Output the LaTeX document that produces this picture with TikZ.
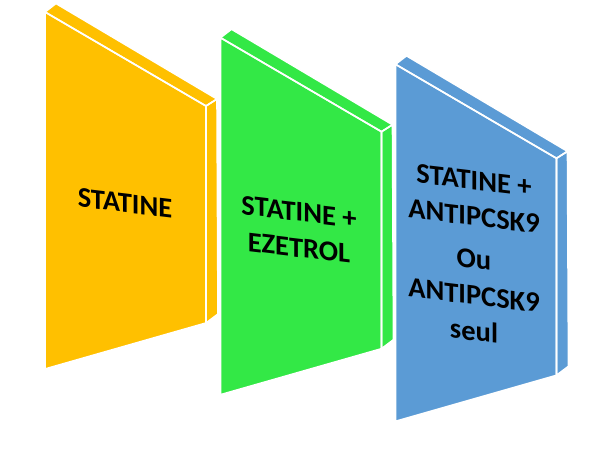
\documentclass[tikz,border=0pt]{standalone}
\usepackage{fontspec}
\setmainfont{Carlito}
\definecolor{porange}{HTML}{FFC000}
\definecolor{pgreen}{HTML}{33E846}
\definecolor{pblue}{HTML}{5B9BD5}
\newcommand{\drawpanel}[3]{%
  \begin{scope}[shift={(#1pt,-#2pt)}]
    \fill[#3] (45pt,-12pt) -- (56pt,-3.5pt) -- (217pt,-99pt) -- (218pt,-314pt) -- (206pt,-323pt) -- (45pt,-369pt) -- cycle;
    \draw[face] (45pt,-12pt) -- (56pt,-3.5pt) -- (217pt,-99pt) -- (206pt,-106pt) -- cycle;
    \draw[face] (206pt,-106pt) -- (217pt,-99pt) -- (218pt,-314pt) -- (206pt,-323pt) -- cycle;
    \draw[face] (45pt,-12pt) -- (206pt,-106pt) -- (206pt,-323pt) -- (45pt,-369pt) -- cycle;
  \end{scope}}
\begin{document}
\begin{tikzpicture}[x=1pt,y=1pt,
  face/.style={draw=white,line width=1.6pt,line join=round},
  lbl/.style={font=\bfseries\fontsize{28.5}{36}\selectfont,text=black,yslant=-0.12,inner sep=0pt,align=center}]
\useasboundingbox (0,0) rectangle (600,-452);
\drawpanel{0}{0}{porange}
\drawpanel{175.5}{25.7}{pgreen}
\drawpanel{350.5}{52.3}{pblue}
\node[lbl] (t1) at (125,-203) {STATINE};
\node[lbl] (t2) at (299,-230) {STATINE +\\EZETROL};
\node[lbl] (t3) at (474,-256) {STATINE +\\ANTIPCSK9\\[7pt]Ou\\ANTIPCSK9\\seul};
\end{tikzpicture}
\end{document}
